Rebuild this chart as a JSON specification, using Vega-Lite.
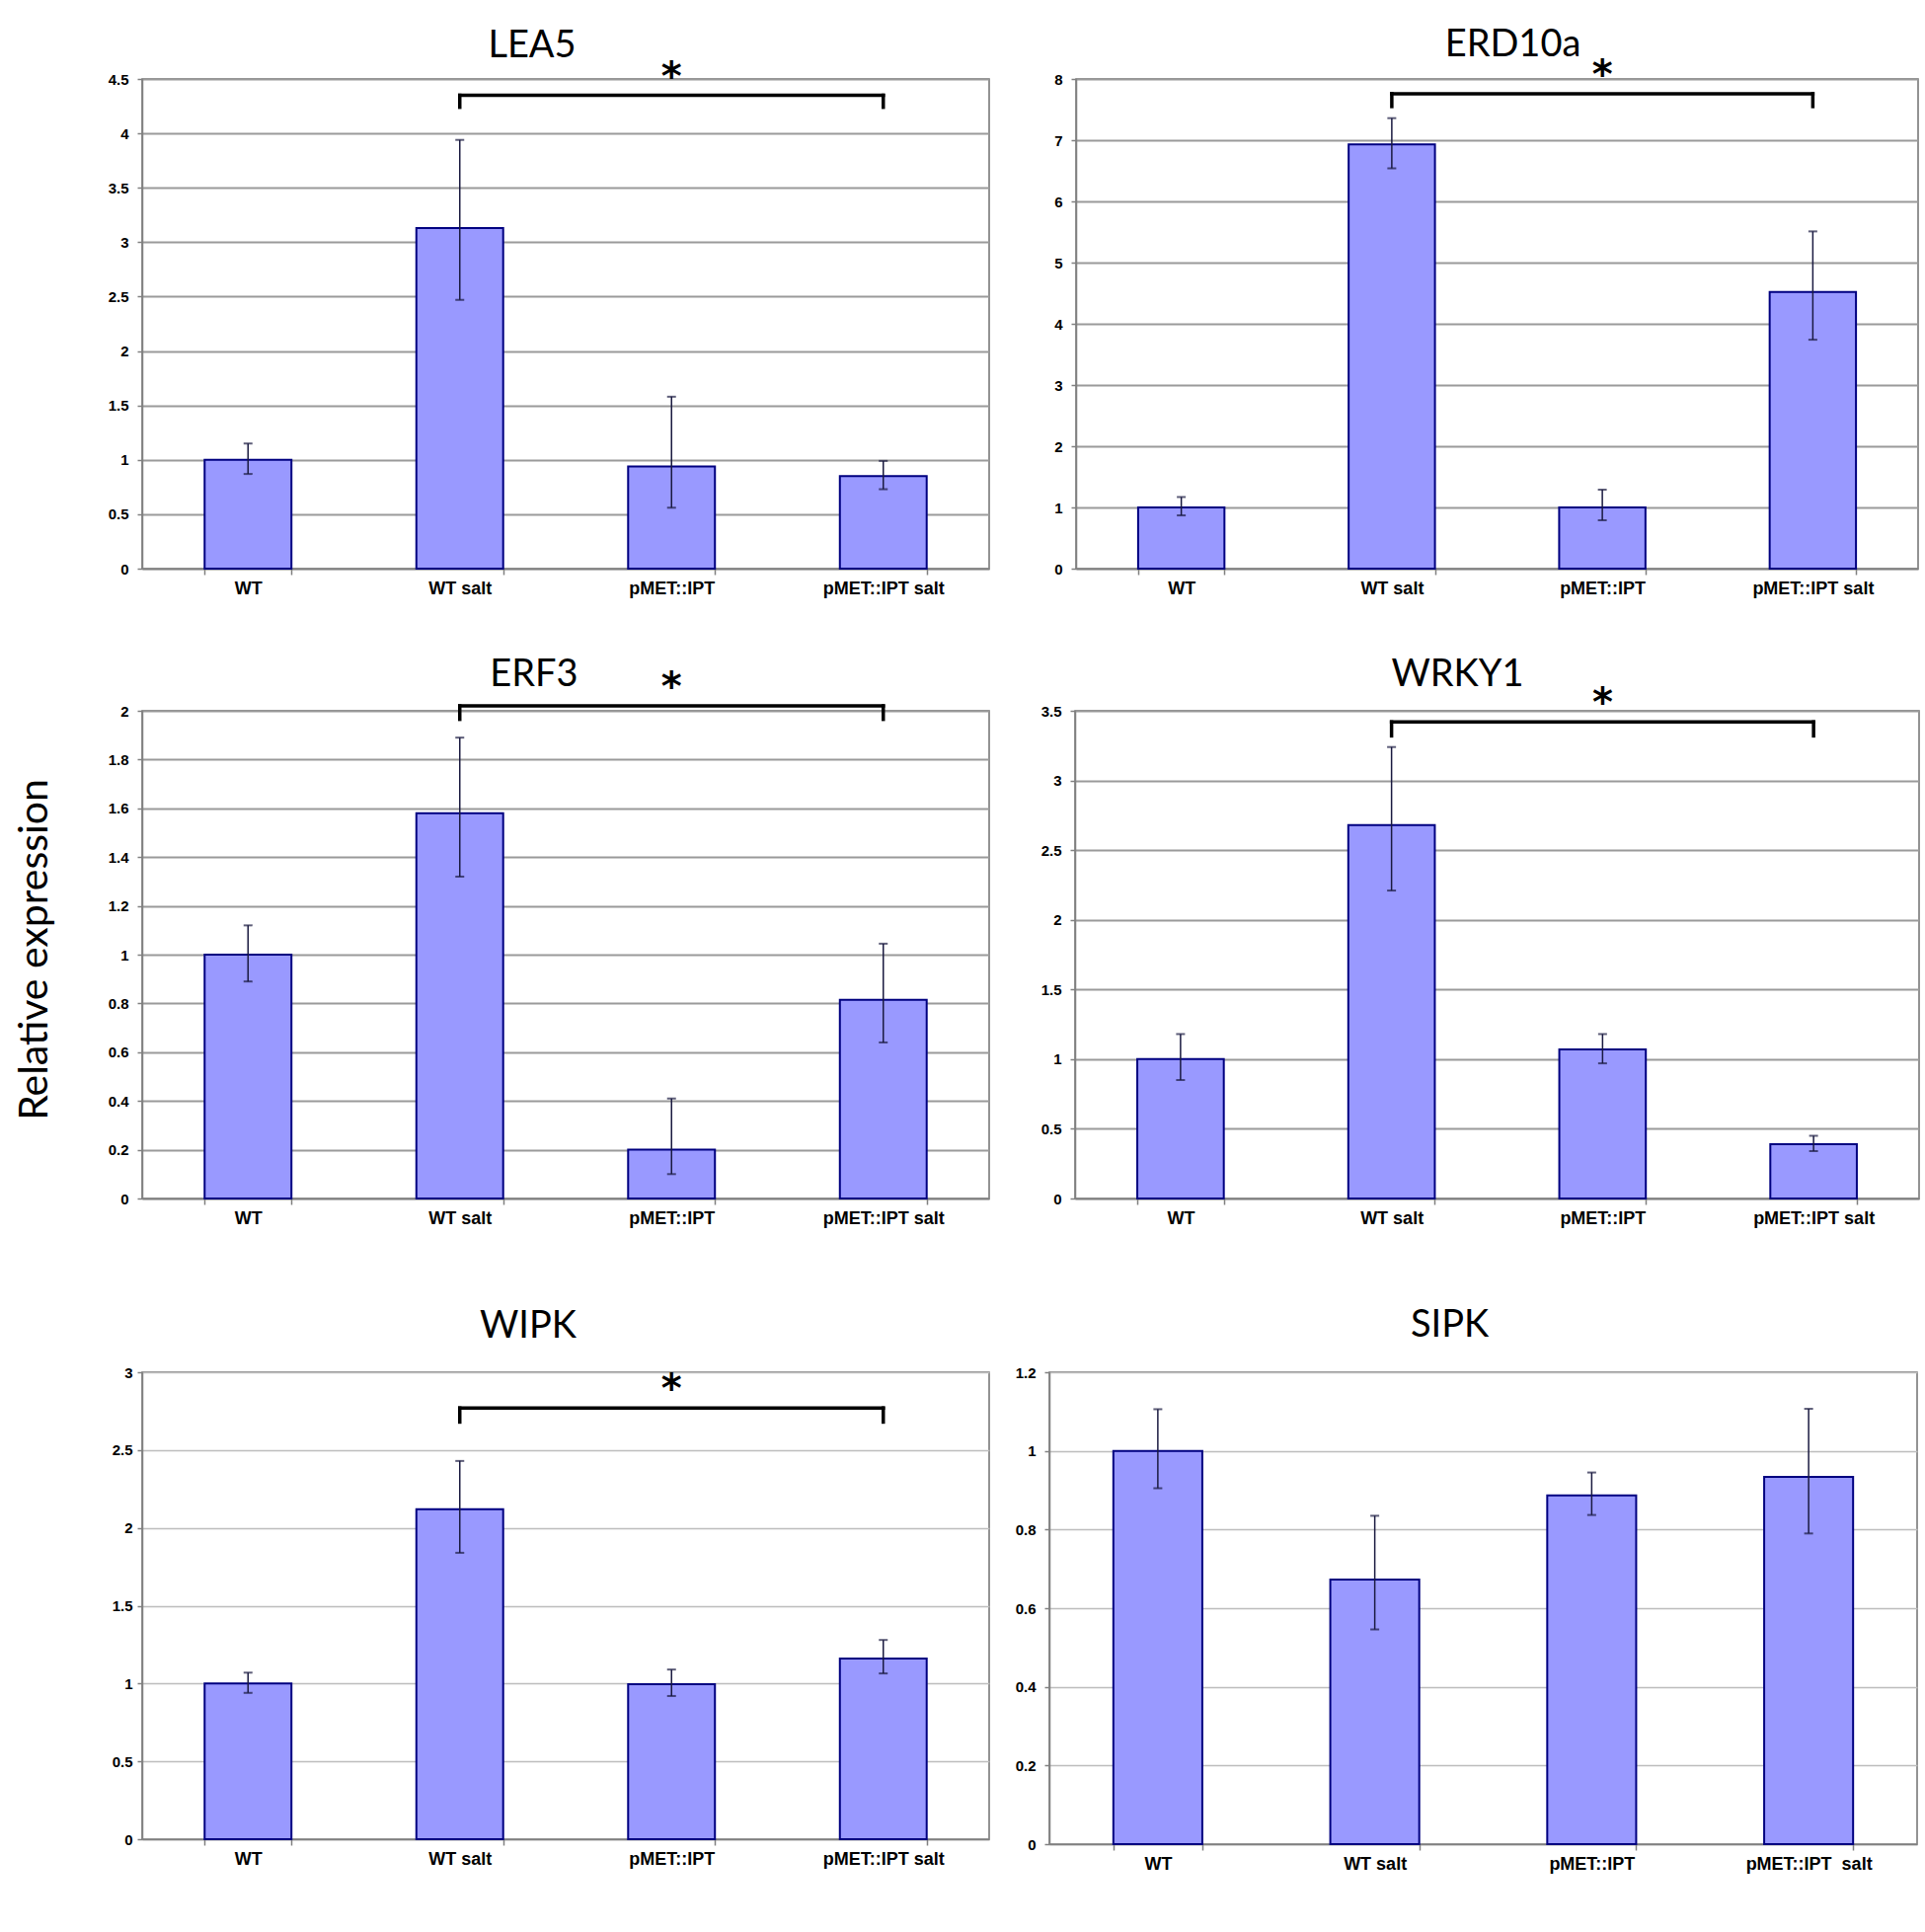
{
"$schema": "https://vega.github.io/schema/vega-lite/v6.json",
"padding": {"left": 15, "top": 26, "right": 0, "bottom": 0},
"background": "white",
"title": {"text": "Relative expression", "orient": "left", "anchor": "middle", "fontSize": 41, "font": "Lato", "fontWeight": "normal", "color": "#000", "offset": 51},
"datasets": {
"bars": [
{"gene":"LEA5","cond":"WT","value":1.0,"lo":0.87,"hi":1.15},
{"gene":"LEA5","cond":"WT salt","value":3.13,"lo":2.47,"hi":3.94},
{"gene":"LEA5","cond":"pMET::IPT","value":0.94,"lo":0.56,"hi":1.58},
{"gene":"LEA5","cond":"pMET::IPT salt","value":0.85,"lo":0.73,"hi":0.99},
{"gene":"ERD10a","cond":"WT","value":1.0,"lo":0.87,"hi":1.17},
{"gene":"ERD10a","cond":"WT salt","value":6.93,"lo":6.54,"hi":7.36},
{"gene":"ERD10a","cond":"pMET::IPT","value":1.0,"lo":0.79,"hi":1.29},
{"gene":"ERD10a","cond":"pMET::IPT salt","value":4.52,"lo":3.74,"hi":5.51},
{"gene":"ERF3","cond":"WT","value":1.0,"lo":0.89,"hi":1.12},
{"gene":"ERF3","cond":"WT salt","value":1.58,"lo":1.32,"hi":1.89},
{"gene":"ERF3","cond":"pMET::IPT","value":0.2,"lo":0.1,"hi":0.41},
{"gene":"ERF3","cond":"pMET::IPT salt","value":0.815,"lo":0.64,"hi":1.045},
{"gene":"WRKY1","cond":"WT","value":1.0,"lo":0.85,"hi":1.18},
{"gene":"WRKY1","cond":"WT salt","value":2.68,"lo":2.21,"hi":3.24},
{"gene":"WRKY1","cond":"pMET::IPT","value":1.07,"lo":0.97,"hi":1.18},
{"gene":"WRKY1","cond":"pMET::IPT salt","value":0.39,"lo":0.34,"hi":0.45},
{"gene":"WIPK","cond":"WT","value":1.0,"lo":0.94,"hi":1.07},
{"gene":"WIPK","cond":"WT salt","value":2.12,"lo":1.84,"hi":2.43},
{"gene":"WIPK","cond":"pMET::IPT","value":0.995,"lo":0.92,"hi":1.09},
{"gene":"WIPK","cond":"pMET::IPT salt","value":1.16,"lo":1.065,"hi":1.28},
{"gene":"SIPK","cond":"WT","value":1.0,"lo":0.905,"hi":1.106},
{"gene":"SIPK","cond":"WT salt","value":0.673,"lo":0.546,"hi":0.835},
{"gene":"SIPK","cond":"pMET::IPT","value":0.887,"lo":0.837,"hi":0.945},
{"gene":"SIPK","cond":"pMET::IPT salt","value":0.934,"lo":0.79,"hi":1.107}
],
"sig": [
{"gene":"LEA5","from":"WT salt","to":"pMET::IPT salt","mid":"pMET::IPT","y":4.35,"tick":4.24},
{"gene":"ERD10a","from":"WT salt","to":"pMET::IPT salt","mid":"pMET::IPT","y":7.76,"tick":7.55},
{"gene":"ERF3","from":"WT salt","to":"pMET::IPT salt","mid":"pMET::IPT","y":2.02,"tick":1.965},
{"gene":"WRKY1","from":"WT salt","to":"pMET::IPT salt","mid":"pMET::IPT","y":3.42,"tick":3.32},
{"gene":"WIPK","from":"WT salt","to":"pMET::IPT salt","mid":"pMET::IPT","y":2.77,"tick":2.68}
]
},
"vconcat": [
{"hconcat": [
{
"width": 858, "height": 496,
"title": {"text": "LEA5", "dx": -34, "offset": -7},
"layer": [
{"data": {"name": "bars"}, "transform": [{"filter": "datum.gene === 'LEA5'"}],
 "mark": {"type": "bar", "fill": "#9999ff", "stroke": "#000080", "strokeWidth": 2},
 "encoding": {
  "x": {"field": "cond", "type": "nominal", "title": null, "scale": {"domain": ["WT","WT salt","pMET::IPT","pMET::IPT salt"], "paddingInner": 0.59, "paddingOuter": 0.295}},
  "y": {"field": "value", "type": "quantitative", "title": null, "scale": {"domain": [0, 4.5], "nice": false}, "axis": {"values": [0,0.5,1,1.5,2,2.5,3,3.5,4,4.5]}}}},
{"data": {"name": "bars"}, "transform": [{"filter": "datum.gene === 'LEA5'"}],
 "mark": {"type": "rule", "color": "#1a1a40", "strokeWidth": 1.5},
 "encoding": {"x": {"field": "cond", "type": "nominal", "title": null}, "y": {"field": "lo", "type": "quantitative", "title": null}, "y2": {"field": "hi"}}},
{"data": {"name": "bars"}, "transform": [{"filter": "datum.gene === 'LEA5'"}],
 "mark": {"type": "tick", "color": "#1a1a40", "size": 9, "thickness": 2},
 "encoding": {"x": {"field": "cond", "type": "nominal", "title": null}, "y": {"field": "lo", "type": "quantitative", "title": null}}},
{"data": {"name": "bars"}, "transform": [{"filter": "datum.gene === 'LEA5'"}],
 "mark": {"type": "tick", "color": "#1a1a40", "size": 9, "thickness": 2},
 "encoding": {"x": {"field": "cond", "type": "nominal", "title": null}, "y": {"field": "hi", "type": "quantitative", "title": null}}},
{"data": {"name": "sig"}, "transform": [{"filter": "datum.gene === 'LEA5'"}],
 "mark": {"type": "rule", "color": "#000", "strokeWidth": 3.5, "strokeCap": "square"},
 "encoding": {"x": {"field": "from", "type": "nominal", "title": null}, "x2": {"field": "to"}, "y": {"field": "y", "type": "quantitative", "title": null}}},
{"data": {"name": "sig"}, "transform": [{"filter": "datum.gene === 'LEA5'"}],
 "mark": {"type": "rule", "color": "#000", "strokeWidth": 3.5, "strokeCap": "square"},
 "encoding": {"x": {"field": "from", "type": "nominal", "title": null}, "y": {"field": "y", "type": "quantitative", "title": null}, "y2": {"field": "tick"}}},
{"data": {"name": "sig"}, "transform": [{"filter": "datum.gene === 'LEA5'"}],
 "mark": {"type": "rule", "color": "#000", "strokeWidth": 3.5, "strokeCap": "square"},
 "encoding": {"x": {"field": "to", "type": "nominal", "title": null}, "y": {"field": "y", "type": "quantitative", "title": null}, "y2": {"field": "tick"}}},
{"data": {"name": "sig"}, "transform": [{"filter": "datum.gene === 'LEA5'"}],
 "mark": {"type": "text", "text": "*", "font": "DejaVu Sans", "fontWeight": "bold", "fontSize": 40, "baseline": "alphabetic", "align": "center", "color": "#000", "dy": -6},
 "encoding": {"x": {"field": "mid", "type": "nominal", "title": null}, "y": {"field": "y", "type": "quantitative", "title": null}}}
]
},
{
"width": 853, "height": 496,
"title": {"text": "ERD10a", "dx": 16, "offset": -8},
"layer": [
{"data": {"name": "bars"}, "transform": [{"filter": "datum.gene === 'ERD10a'"}],
 "mark": {"type": "bar", "fill": "#9999ff", "stroke": "#000080", "strokeWidth": 2},
 "encoding": {
  "x": {"field": "cond", "type": "nominal", "title": null, "scale": {"domain": ["WT","WT salt","pMET::IPT","pMET::IPT salt"], "paddingInner": 0.59, "paddingOuter": 0.295}},
  "y": {"field": "value", "type": "quantitative", "title": null, "scale": {"domain": [0, 8], "nice": false}, "axis": {"values": [0,1,2,3,4,5,6,7,8]}}}},
{"data": {"name": "bars"}, "transform": [{"filter": "datum.gene === 'ERD10a'"}],
 "mark": {"type": "rule", "color": "#1a1a40", "strokeWidth": 1.5},
 "encoding": {"x": {"field": "cond", "type": "nominal", "title": null}, "y": {"field": "lo", "type": "quantitative", "title": null}, "y2": {"field": "hi"}}},
{"data": {"name": "bars"}, "transform": [{"filter": "datum.gene === 'ERD10a'"}],
 "mark": {"type": "tick", "color": "#1a1a40", "size": 9, "thickness": 2},
 "encoding": {"x": {"field": "cond", "type": "nominal", "title": null}, "y": {"field": "lo", "type": "quantitative", "title": null}}},
{"data": {"name": "bars"}, "transform": [{"filter": "datum.gene === 'ERD10a'"}],
 "mark": {"type": "tick", "color": "#1a1a40", "size": 9, "thickness": 2},
 "encoding": {"x": {"field": "cond", "type": "nominal", "title": null}, "y": {"field": "hi", "type": "quantitative", "title": null}}},
{"data": {"name": "sig"}, "transform": [{"filter": "datum.gene === 'ERD10a'"}],
 "mark": {"type": "rule", "color": "#000", "strokeWidth": 3.5, "strokeCap": "square"},
 "encoding": {"x": {"field": "from", "type": "nominal", "title": null}, "x2": {"field": "to"}, "y": {"field": "y", "type": "quantitative", "title": null}}},
{"data": {"name": "sig"}, "transform": [{"filter": "datum.gene === 'ERD10a'"}],
 "mark": {"type": "rule", "color": "#000", "strokeWidth": 3.5, "strokeCap": "square"},
 "encoding": {"x": {"field": "from", "type": "nominal", "title": null}, "y": {"field": "y", "type": "quantitative", "title": null}, "y2": {"field": "tick"}}},
{"data": {"name": "sig"}, "transform": [{"filter": "datum.gene === 'ERD10a'"}],
 "mark": {"type": "rule", "color": "#000", "strokeWidth": 3.5, "strokeCap": "square"},
 "encoding": {"x": {"field": "to", "type": "nominal", "title": null}, "y": {"field": "y", "type": "quantitative", "title": null}, "y2": {"field": "tick"}}},
{"data": {"name": "sig"}, "transform": [{"filter": "datum.gene === 'ERD10a'"}],
 "mark": {"type": "text", "text": "*", "font": "DejaVu Sans", "fontWeight": "bold", "fontSize": 40, "baseline": "alphabetic", "align": "center", "color": "#000", "dy": -6},
 "encoding": {"x": {"field": "mid", "type": "nominal", "title": null}, "y": {"field": "y", "type": "quantitative", "title": null}}}
]
}
], "spacing": 63},
{"vconcat": [
{"hconcat": [
{
"width": 858, "height": 494,
"title": {"text": "ERF3", "dx": -32, "offset": -26},
"layer": [
{"data": {"name": "bars"}, "transform": [{"filter": "datum.gene === 'ERF3'"}],
 "mark": {"type": "bar", "fill": "#9999ff", "stroke": "#000080", "strokeWidth": 2},
 "encoding": {
  "x": {"field": "cond", "type": "nominal", "title": null, "scale": {"domain": ["WT","WT salt","pMET::IPT","pMET::IPT salt"], "paddingInner": 0.59, "paddingOuter": 0.295}},
  "y": {"field": "value", "type": "quantitative", "title": null, "scale": {"domain": [0, 2], "nice": false}, "axis": {"values": [0,0.2,0.4,0.6,0.8,1,1.2,1.4,1.6,1.8,2]}}}},
{"data": {"name": "bars"}, "transform": [{"filter": "datum.gene === 'ERF3'"}],
 "mark": {"type": "rule", "color": "#1a1a40", "strokeWidth": 1.5},
 "encoding": {"x": {"field": "cond", "type": "nominal", "title": null}, "y": {"field": "lo", "type": "quantitative", "title": null}, "y2": {"field": "hi"}}},
{"data": {"name": "bars"}, "transform": [{"filter": "datum.gene === 'ERF3'"}],
 "mark": {"type": "tick", "color": "#1a1a40", "size": 9, "thickness": 2},
 "encoding": {"x": {"field": "cond", "type": "nominal", "title": null}, "y": {"field": "lo", "type": "quantitative", "title": null}}},
{"data": {"name": "bars"}, "transform": [{"filter": "datum.gene === 'ERF3'"}],
 "mark": {"type": "tick", "color": "#1a1a40", "size": 9, "thickness": 2},
 "encoding": {"x": {"field": "cond", "type": "nominal", "title": null}, "y": {"field": "hi", "type": "quantitative", "title": null}}},
{"data": {"name": "sig"}, "transform": [{"filter": "datum.gene === 'ERF3'"}],
 "mark": {"type": "rule", "color": "#000", "strokeWidth": 3.5, "strokeCap": "square"},
 "encoding": {"x": {"field": "from", "type": "nominal", "title": null}, "x2": {"field": "to"}, "y": {"field": "y", "type": "quantitative", "title": null}}},
{"data": {"name": "sig"}, "transform": [{"filter": "datum.gene === 'ERF3'"}],
 "mark": {"type": "rule", "color": "#000", "strokeWidth": 3.5, "strokeCap": "square"},
 "encoding": {"x": {"field": "from", "type": "nominal", "title": null}, "y": {"field": "y", "type": "quantitative", "title": null}, "y2": {"field": "tick"}}},
{"data": {"name": "sig"}, "transform": [{"filter": "datum.gene === 'ERF3'"}],
 "mark": {"type": "rule", "color": "#000", "strokeWidth": 3.5, "strokeCap": "square"},
 "encoding": {"x": {"field": "to", "type": "nominal", "title": null}, "y": {"field": "y", "type": "quantitative", "title": null}, "y2": {"field": "tick"}}},
{"data": {"name": "sig"}, "transform": [{"filter": "datum.gene === 'ERF3'"}],
 "mark": {"type": "text", "text": "*", "font": "DejaVu Sans", "fontWeight": "bold", "fontSize": 40, "baseline": "alphabetic", "align": "center", "color": "#000", "dy": -6},
 "encoding": {"x": {"field": "mid", "type": "nominal", "title": null}, "y": {"field": "y", "type": "quantitative", "title": null}}}
]
},
{
"width": 855, "height": 494,
"title": {"text": "WRKY1", "dx": -40, "offset": -10},
"layer": [
{"data": {"name": "bars"}, "transform": [{"filter": "datum.gene === 'WRKY1'"}],
 "mark": {"type": "bar", "fill": "#9999ff", "stroke": "#000080", "strokeWidth": 2},
 "encoding": {
  "x": {"field": "cond", "type": "nominal", "title": null, "scale": {"domain": ["WT","WT salt","pMET::IPT","pMET::IPT salt"], "paddingInner": 0.59, "paddingOuter": 0.295}},
  "y": {"field": "value", "type": "quantitative", "title": null, "scale": {"domain": [0, 3.5], "nice": false}, "axis": {"values": [0,0.5,1,1.5,2,2.5,3,3.5]}}}},
{"data": {"name": "bars"}, "transform": [{"filter": "datum.gene === 'WRKY1'"}],
 "mark": {"type": "rule", "color": "#1a1a40", "strokeWidth": 1.5},
 "encoding": {"x": {"field": "cond", "type": "nominal", "title": null}, "y": {"field": "lo", "type": "quantitative", "title": null}, "y2": {"field": "hi"}}},
{"data": {"name": "bars"}, "transform": [{"filter": "datum.gene === 'WRKY1'"}],
 "mark": {"type": "tick", "color": "#1a1a40", "size": 9, "thickness": 2},
 "encoding": {"x": {"field": "cond", "type": "nominal", "title": null}, "y": {"field": "lo", "type": "quantitative", "title": null}}},
{"data": {"name": "bars"}, "transform": [{"filter": "datum.gene === 'WRKY1'"}],
 "mark": {"type": "tick", "color": "#1a1a40", "size": 9, "thickness": 2},
 "encoding": {"x": {"field": "cond", "type": "nominal", "title": null}, "y": {"field": "hi", "type": "quantitative", "title": null}}},
{"data": {"name": "sig"}, "transform": [{"filter": "datum.gene === 'WRKY1'"}],
 "mark": {"type": "rule", "color": "#000", "strokeWidth": 3.5, "strokeCap": "square"},
 "encoding": {"x": {"field": "from", "type": "nominal", "title": null}, "x2": {"field": "to"}, "y": {"field": "y", "type": "quantitative", "title": null}}},
{"data": {"name": "sig"}, "transform": [{"filter": "datum.gene === 'WRKY1'"}],
 "mark": {"type": "rule", "color": "#000", "strokeWidth": 3.5, "strokeCap": "square"},
 "encoding": {"x": {"field": "from", "type": "nominal", "title": null}, "y": {"field": "y", "type": "quantitative", "title": null}, "y2": {"field": "tick"}}},
{"data": {"name": "sig"}, "transform": [{"filter": "datum.gene === 'WRKY1'"}],
 "mark": {"type": "rule", "color": "#000", "strokeWidth": 3.5, "strokeCap": "square"},
 "encoding": {"x": {"field": "to", "type": "nominal", "title": null}, "y": {"field": "y", "type": "quantitative", "title": null}, "y2": {"field": "tick"}}},
{"data": {"name": "sig"}, "transform": [{"filter": "datum.gene === 'WRKY1'"}],
 "mark": {"type": "text", "text": "*", "font": "DejaVu Sans", "fontWeight": "bold", "fontSize": 40, "baseline": "alphabetic", "align": "center", "color": "#000", "dy": -6},
 "encoding": {"x": {"field": "mid", "type": "nominal", "title": null}, "y": {"field": "y", "type": "quantitative", "title": null}}}
]
}
], "spacing": 50},
{"hconcat": [
{
"width": 858, "height": 473,
"title": {"text": "WIPK", "dx": -38, "offset": 20},
"layer": [
{"data": {"name": "bars"}, "transform": [{"filter": "datum.gene === 'WIPK'"}],
 "mark": {"type": "bar", "fill": "#9999ff", "stroke": "#000080", "strokeWidth": 2},
 "encoding": {
  "x": {"field": "cond", "type": "nominal", "title": null, "scale": {"domain": ["WT","WT salt","pMET::IPT","pMET::IPT salt"], "paddingInner": 0.59, "paddingOuter": 0.295}},
  "y": {"field": "value", "type": "quantitative", "title": null, "scale": {"domain": [0, 3], "nice": false}, "axis": {"values": [0,0.5,1,1.5,2,2.5,3], "labelPadding": 5, "gridColor": "#bdbdbd", "gridWidth": 1.4}}}},
{"data": {"name": "bars"}, "transform": [{"filter": "datum.gene === 'WIPK'"}],
 "mark": {"type": "rule", "color": "#1a1a40", "strokeWidth": 1.5},
 "encoding": {"x": {"field": "cond", "type": "nominal", "title": null}, "y": {"field": "lo", "type": "quantitative", "title": null}, "y2": {"field": "hi"}}},
{"data": {"name": "bars"}, "transform": [{"filter": "datum.gene === 'WIPK'"}],
 "mark": {"type": "tick", "color": "#1a1a40", "size": 9, "thickness": 2},
 "encoding": {"x": {"field": "cond", "type": "nominal", "title": null}, "y": {"field": "lo", "type": "quantitative", "title": null}}},
{"data": {"name": "bars"}, "transform": [{"filter": "datum.gene === 'WIPK'"}],
 "mark": {"type": "tick", "color": "#1a1a40", "size": 9, "thickness": 2},
 "encoding": {"x": {"field": "cond", "type": "nominal", "title": null}, "y": {"field": "hi", "type": "quantitative", "title": null}}},
{"data": {"name": "sig"}, "transform": [{"filter": "datum.gene === 'WIPK'"}],
 "mark": {"type": "rule", "color": "#000", "strokeWidth": 3.5, "strokeCap": "square"},
 "encoding": {"x": {"field": "from", "type": "nominal", "title": null}, "x2": {"field": "to"}, "y": {"field": "y", "type": "quantitative", "title": null}}},
{"data": {"name": "sig"}, "transform": [{"filter": "datum.gene === 'WIPK'"}],
 "mark": {"type": "rule", "color": "#000", "strokeWidth": 3.5, "strokeCap": "square"},
 "encoding": {"x": {"field": "from", "type": "nominal", "title": null}, "y": {"field": "y", "type": "quantitative", "title": null}, "y2": {"field": "tick"}}},
{"data": {"name": "sig"}, "transform": [{"filter": "datum.gene === 'WIPK'"}],
 "mark": {"type": "rule", "color": "#000", "strokeWidth": 3.5, "strokeCap": "square"},
 "encoding": {"x": {"field": "to", "type": "nominal", "title": null}, "y": {"field": "y", "type": "quantitative", "title": null}, "y2": {"field": "tick"}}},
{"data": {"name": "sig"}, "transform": [{"filter": "datum.gene === 'WIPK'"}],
 "mark": {"type": "text", "text": "*", "font": "DejaVu Sans", "fontWeight": "bold", "fontSize": 40, "baseline": "alphabetic", "align": "center", "color": "#000", "dy": -6},
 "encoding": {"x": {"field": "mid", "type": "nominal", "title": null}, "y": {"field": "y", "type": "quantitative", "title": null}}}
]
},
{
"width": 879, "height": 478,
"title": {"text": "SIPK", "dx": -34, "offset": 21},
"layer": [
{"data": {"name": "bars"}, "transform": [{"filter": "datum.gene === 'SIPK'"}],
 "mark": {"type": "bar", "fill": "#9999ff", "stroke": "#000080", "strokeWidth": 2},
 "encoding": {
  "x": {"field": "cond", "type": "nominal", "title": null, "scale": {"domain": ["WT","WT salt","pMET::IPT","pMET::IPT salt"], "paddingInner": 0.59, "paddingOuter": 0.295}, "axis": {"labelExpr": "datum.value === 'pMET::IPT salt' ? 'pMET::IPT\u00a0 salt' : datum.value"}},
  "y": {"field": "value", "type": "quantitative", "title": null, "scale": {"domain": [0, 1.2], "nice": false}, "axis": {"values": [0,0.2,0.4,0.6,0.8,1,1.2], "gridColor": "#bdbdbd", "gridWidth": 1.4}}}},
{"data": {"name": "bars"}, "transform": [{"filter": "datum.gene === 'SIPK'"}],
 "mark": {"type": "rule", "color": "#1a1a40", "strokeWidth": 1.5},
 "encoding": {"x": {"field": "cond", "type": "nominal", "title": null}, "y": {"field": "lo", "type": "quantitative", "title": null}, "y2": {"field": "hi"}}},
{"data": {"name": "bars"}, "transform": [{"filter": "datum.gene === 'SIPK'"}],
 "mark": {"type": "tick", "color": "#1a1a40", "size": 9, "thickness": 2},
 "encoding": {"x": {"field": "cond", "type": "nominal", "title": null}, "y": {"field": "lo", "type": "quantitative", "title": null}}},
{"data": {"name": "bars"}, "transform": [{"filter": "datum.gene === 'SIPK'"}],
 "mark": {"type": "tick", "color": "#1a1a40", "size": 9, "thickness": 2},
 "encoding": {"x": {"field": "cond", "type": "nominal", "title": null}, "y": {"field": "hi", "type": "quantitative", "title": null}}}
]
}
], "spacing": 24}
], "spacing": 79}
],
"spacing": 58,
"config": {
 "view": {"stroke": "#707070", "strokeWidth": 1.5},
 "axis": {"labelFont": "Liberation Sans", "labelFontWeight": "bold", "labelColor": "#000", "domainColor": "#808080", "domainWidth": 1.5, "tickColor": "#808080", "tickWidth": 1.5, "gridColor": "#9a9a9a", "gridWidth": 2},
 "axisX": {"labelFontSize": 18, "labelAngle": 0, "tickBand": "extent", "tickSize": 6, "labelPadding": 5, "grid": false},
 "axisY": {"labelFontSize": 15, "tickSize": 5, "labelPadding": 9, "grid": true, "format": "~g"},
 "title": {"font": "Lato", "fontSize": 38, "fontWeight": "normal", "color": "#000", "baseline": "alphabetic", "anchor": "middle"}
}
}
